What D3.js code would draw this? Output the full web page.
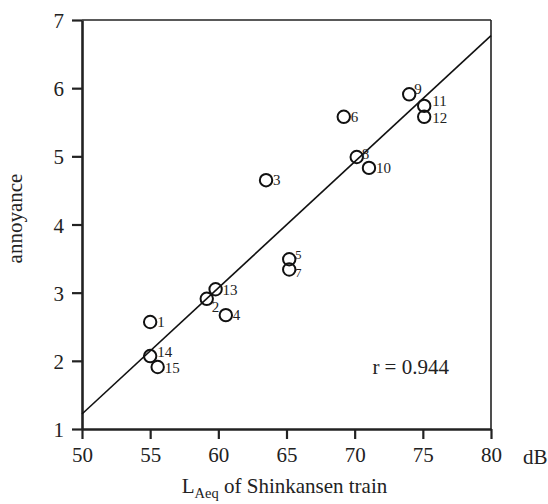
<!DOCTYPE html>
<html>
<head>
<meta charset="utf-8">
<script src="https://cdn.jsdelivr.net/npm/d3@7"></script>
<style>
  body { margin: 0; background: #fff; }
  text { font-family: "Liberation Serif", "Times New Roman", serif; fill: #222; }
</style>
</head>
<body>
<div id="chart"></div>
<script>
// data
let pointIds   = [1, 2, 3, 4, 5, 6, 7, 8, 9, 10, 11, 12, 13, 14, 15];
let laeqValues = [55.0, 59.15, 63.5, 60.55, 65.2, 69.2, 65.2, 70.15, 74.0, 71.05, 75.1, 75.1, 59.8, 55.0, 55.55];
let annoyValues = [2.57, 2.91, 4.65, 2.67, 3.49, 5.58, 3.34, 4.99, 5.91, 4.83, 5.74, 5.58, 3.05, 2.07, 1.91];
let fitX = [50, 80];
let fitY = [1.22, 6.77];
let xTicks = [50, 55, 60, 65, 70, 75, 80];
let yTicks = [1, 2, 3, 4, 5, 6, 7];

let margin = {top: 20, right: 57, bottom: 75, left: 82};
let width = 548 - margin.left - margin.right,
    height = 504 - margin.top - margin.bottom;

let svg = d3.select("#chart").append("svg")
    .attr("width", 548)
    .attr("height", 504)
    .append("g")
    .attr("transform", "translate(" + margin.left + "," + margin.top + ")");

let x = d3.scaleLinear().domain([50, 80]).range([0, width]);
let y = d3.scaleLinear().domain([1, 7]).range([height, 0]);

// frame (top and right thinner)
svg.append("line").attr("x1", 0).attr("x2", width).attr("y1", 0).attr("y2", 0)
    .attr("stroke", "#222").attr("stroke-width", 1.6);
svg.append("line").attr("x1", width).attr("x2", width).attr("y1", 0).attr("y2", height)
    .attr("stroke", "#222").attr("stroke-width", 1.6);

// axes
let xAxis = d3.axisBottom(x).tickValues(xTicks).tickFormat(d3.format("d"))
    .tickSize(10).tickPadding(8).tickSizeOuter(0);
let yAxis = d3.axisLeft(y).tickValues(yTicks).tickFormat(d3.format("d"))
    .tickSize(10).tickPadding(8).tickSizeOuter(0);

let gx = svg.append("g").attr("transform", "translate(0," + height + ")").call(xAxis);
let gy = svg.append("g").call(yAxis);

[gx, gy].forEach(function(g) {
    g.attr("font-family", null).attr("font-size", null);
    g.select(".domain").attr("stroke", "#222").attr("stroke-width", 2.6);
    g.selectAll(".tick line").attr("stroke", "#222").attr("stroke-width", 2.2);
    g.selectAll(".tick text")
        .style("font-size", "21px")
        .attr("fill", "#222");
});
gy.selectAll(".tick text").attr("dy", "0.36em");

// unit
svg.append("text")
    .attr("x", width + 32)
    .attr("y", height + 35)
    .style("font-size", "21px")
    .text("dB");

// axis titles
let xTitle = svg.append("text")
    .attr("x", width / 2 - 2)
    .attr("y", height + 64)
    .attr("text-anchor", "middle")
    .style("font-size", "21px");
xTitle.append("tspan").text("L");
xTitle.append("tspan").attr("dy", 5).style("font-size", "14.5px").text("Aeq");
xTitle.append("tspan").attr("dy", -5).text(" of Shinkansen train");

svg.append("text")
    .attr("transform", "translate(" + (-60) + "," + (height / 2 - 6) + ") rotate(-90)")
    .attr("text-anchor", "middle")
    .style("font-size", "21px")
    .text("annoyance");

// regression line
let line = d3.line()
    .x(function(d) { return x(d[0]); })
    .y(function(d) { return y(d[1]); });

svg.append("path")
    .datum(d3.zip(fitX, fitY))
    .attr("d", line)
    .attr("fill", "none")
    .attr("stroke", "#111")
    .attr("stroke-width", 1.6);

// points
let points = pointIds.map(function(id, i) {
    return {id: id, x: laeqValues[i], y: annoyValues[i]};
});

svg.selectAll(".pt")
    .data(points)
    .enter().append("circle")
    .attr("class", "pt")
    .attr("cx", function(d) { return x(d.x); })
    .attr("cy", function(d) { return y(d.y); })
    .attr("r", 6.2)
    .attr("fill", "none")
    .attr("stroke", "#111")
    .attr("stroke-width", 2);

// label placement next to each circle
let labelShift = {
    2: [5, 8], 5: [6, -5], 7: [6, 3], 8: [5, -3], 9: [5, -6], 11: [8, -5], 12: [8, 1], 14: [7, -4], 15: [7, 1]
};

svg.selectAll(".lbl")
    .data(points)
    .enter().append("text")
    .attr("class", "lbl")
    .attr("x", function(d) { return x(d.x) + (labelShift[d.id] ? labelShift[d.id][0] : 7); })
    .attr("y", function(d) { return y(d.y) + (labelShift[d.id] ? labelShift[d.id][1] : 0); })
    .attr("dy", "0.35em")
    .style("font-size", function(d) { return (d.id === 5 || d.id === 7) ? "12.5px" : "15px"; })
    .text(function(d) { return d.id; });

// correlation
svg.append("text")
    .attr("x", x(71.3))
    .attr("y", y(1.8))
    .style("font-size", "21px")
    .text("r = 0.944");
</script>
</body>
</html>
